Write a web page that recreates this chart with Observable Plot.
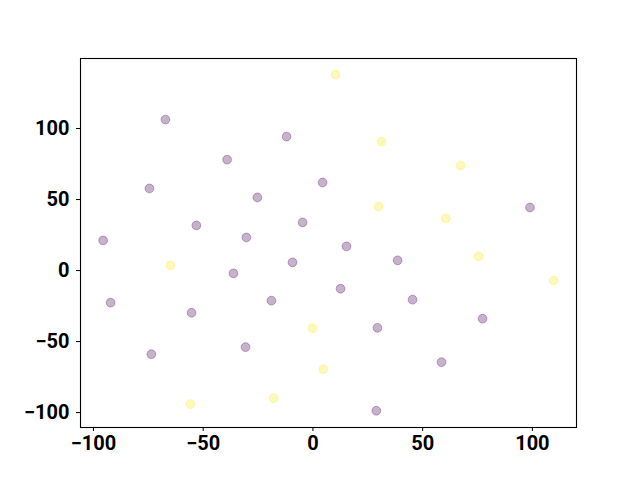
<!DOCTYPE html>
<html>
<head>
<meta charset="utf-8">
<script src="https://cdn.jsdelivr.net/npm/d3@7"></script>
<script src="https://cdn.jsdelivr.net/npm/@observablehq/plot@0.6"></script>
<style>
  html, body { margin: 0; padding: 0; background: #fff; }
  svg { display: block; }
</style>
</head>
<body>
<div id="chart"></div>
<script>
const purpleX = [-67.2, -12.0, -39.1, -74.5, 4.4, -25.3, 98.9, -4.7, -53.1, -30.3, -95.6, 15.3, -9.3, 38.6, -36.2, 12.6, -18.9, 45.4, -92.2, -55.3, 77.3, 29.4, -30.7, -73.6, 58.6, 28.9];
const purpleY = [106.3, 94.3, 78.1, 57.8, 62.0, 51.5, 44.4, 33.9, 31.8, 23.3, 21.2, 17.0, 5.8, 7.2, -2.0, -12.8, -21.2, -20.5, -22.6, -29.7, -33.9, -40.3, -53.9, -58.9, -64.5, -98.7];
const yellowX = [10.3, 31.3, 67.3, 29.9, 60.6, 75.5, -64.9, 109.7, -0.2, 4.8, -55.8, -17.9];
const yellowY = [137.9, 90.8, 73.9, 45.1, 36.7, 10.0, 3.7, -7.0, -40.6, -69.4, -94.0, -89.8];
const xTicks = [-100, -50, 0, 50, 100];
const yTicks = [-100, -50, 0, 50, 100];
const groups = ["a", "b"];
const groupColors = ["#440154", "#fde725"];

const data = [
  ...purpleX.map((x, i) => ({x, y: purpleY[i], g: "a"})),
  ...yellowX.map((x, i) => ({x, y: yellowY[i], g: "b"}))
];

const fmt = d => d < 0 ? "\u2212" + Math.abs(d) : String(d);

const chart = Plot.plot({
  width: 640,
  height: 480,
  marginLeft: 80,
  marginRight: 64,
  marginTop: 58,
  marginBottom: 53,
  style: {fontFamily: "Roboto", fontWeight: "bold", fontSize: "20px", color: "#000", background: "#fff"},
  x: {domain: [-105.9, 120.1], label: null},
  y: {domain: [-110.5, 149.3], label: null},
  color: {domain: groups, range: groupColors},
  marks: [
    Plot.axisX(xTicks, {tickFormat: fmt, tickSize: 4, tickPadding: 4, fontSize: 20, fontWeight: "bold", label: null}),
    Plot.axisY(yTicks, {tickFormat: fmt, tickSize: 4, tickPadding: 7, fontSize: 20, fontWeight: "bold", label: null}),
    Plot.dot(data, {x: "x", y: "y", r: 4.4, fill: "g", fillOpacity: 0.3, stroke: "g", strokeOpacity: 0.3, strokeWidth: 1}),
    Plot.frame({stroke: "#000", strokeWidth: 1.1})
  ]
});
document.getElementById("chart").appendChild(chart);
</script>
</body>
</html>
